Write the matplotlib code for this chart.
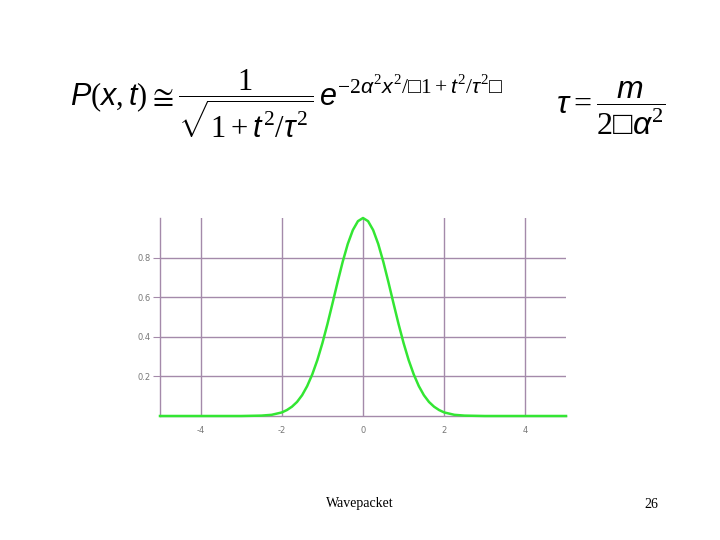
import matplotlib.pyplot as plt

plt.rcParams['mathtext.fontset'] = 'custom'
plt.rcParams['mathtext.rm'] = 'Liberation Serif'
plt.rcParams['mathtext.it'] = 'Liberation Sans:italic'
plt.rcParams['mathtext.bf'] = 'Liberation Serif:bold'

# curve (probability density vs x)
x_vals = [-5.0, -4.0, -3.0, -2.5, -2.25, -2.0, -1.875, -1.75, -1.625, -1.5, -1.375, -1.25,
          -1.125, -1.0, -0.875, -0.75, -0.625, -0.5, -0.375, -0.25, -0.125, 0.0,
          0.125, 0.25, 0.375, 0.5, 0.625, 0.75, 0.875, 1.0, 1.125, 1.25, 1.375, 1.5,
          1.625, 1.75, 1.875, 2.0, 2.25, 2.5, 3.0, 4.0, 5.0]
p_vals = [0.0, 0.0, 0.0, 0.002, 0.006, 0.018, 0.030, 0.047, 0.071, 0.105, 0.151, 0.21,
          0.282, 0.368, 0.465, 0.57, 0.677, 0.779, 0.869, 0.939, 0.984, 1.0,
          0.984, 0.939, 0.869, 0.779, 0.677, 0.57, 0.465, 0.368, 0.282, 0.21, 0.151, 0.105,
          0.071, 0.047, 0.030, 0.018, 0.006, 0.002, 0.0, 0.0, 0.0]
x_ticks = [-4, -2, 0, 2, 4]
y_ticks = [0.2, 0.4, 0.6, 0.8]

grid_col = '#a48aaa'

fig = plt.figure(figsize=(7.2, 5.4), dpi=100)
ax = fig.add_axes([160 / 720, 1 - 416 / 540, 406 / 720, 198 / 540])
ax.set_xlim(-5, 5)
ax.set_ylim(0, 1.0)

for xt in x_ticks:
    ax.axvline(xt, color=grid_col, lw=1.0, zorder=1)
for yt in y_ticks:
    ax.axhline(yt, color=grid_col, lw=1.0, zorder=1)

ax.plot(x_vals, p_vals, color='#33e633', lw=1.8, zorder=3, clip_on=False)

for s in ['top', 'right']:
    ax.spines[s].set_visible(False)
for s in ['left', 'bottom']:
    ax.spines[s].set_color(grid_col)
    ax.spines[s].set_linewidth(1.0)

ax.set_xticks(x_ticks)
ax.set_yticks(y_ticks)
ax.set_xticklabels([str(v) for v in x_ticks])
ax.set_yticklabels([f'{v:.1f}' for v in y_ticks])
ax.tick_params(axis='y', length=5, color=grid_col, labelsize=6, labelcolor='#777777', pad=2)
ax.tick_params(axis='x', length=0, labelsize=6, labelcolor='#777777', pad=7)

# equations
fig.text(70 / 720, 1 - 104 / 540,
         r'$P(x,t)\cong\dfrac{1}{\sqrt{1+t^2/\tau^2}}\,e^{-2\alpha^2x^2/□1+t^2/\tau^2□}$',
         fontsize=22, ha='left', va='center')
fig.text(556 / 720, 1 - 108 / 540, r'$\tau=\dfrac{m}{2□\alpha^2}$',
         fontsize=23, ha='left', va='center')

# footer
fig.text(360 / 720, 1 - 504 / 540, 'Wavepacket', family='Liberation Serif',
         fontsize=10, ha='center', va='center')
fig.text(651 / 720, 1 - 504 / 540, '26', family='Liberation Serif',
         fontsize=10, ha='center', va='center')

fig.savefig('out.png', dpi=100)
